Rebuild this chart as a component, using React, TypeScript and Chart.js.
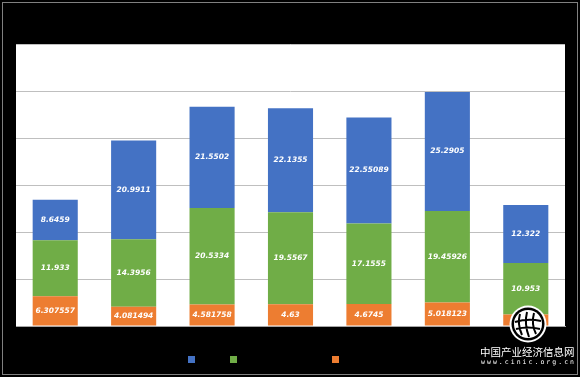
import React, { useEffect, useRef } from 'react';
import { Chart, registerables } from 'chart.js';

Chart.register(...registerables);

const categories = ['2013年', '2014年', '2015年', '2016年', '2017年', '2018年', '2019年'];
const seriesNames = ['系列3', '系列2', '系列1'];
const orangeValues = [6.307557, 4.081494, 4.581758, 4.63, 4.6745, 5.018123, 2.45];
const greenValues = [11.933, 14.3956, 20.5334, 19.5567, 17.1555, 19.45926, 10.953];
const blueValues = [8.6459, 20.9911, 21.5502, 22.1355, 22.55089, 25.2905, 12.322];
const seriesColors = ['#ED7D31', '#70AD47', '#4472C4'];
const yMin = 0;
const yMax = 60;
const yStep = 10;
const watermarkTitle = '中国产业经济信息网';
const watermarkUrl = 'www.cinic.org.cn';

const framePlugin = {
  id: 'frame',
  beforeDraw(chart: any) {
    const { ctx, chartArea } = chart;
    ctx.save();
    ctx.fillStyle = '#000';
    ctx.fillRect(0, 0, chart.width, chart.height);
    ctx.strokeStyle = '#808080';
    ctx.lineWidth = 1;
    ctx.strokeRect(2.5, 2.5, chart.width - 5, chart.height - 5);
    ctx.fillStyle = '#fff';
    ctx.fillRect(chartArea.left, chartArea.top, chartArea.right - chartArea.left, chartArea.bottom - chartArea.top);
    ctx.restore();
  },
};

const labelPlugin = {
  id: 'segLabels',
  afterDatasetsDraw(chart: any) {
    const { ctx } = chart;
    ctx.save();
    ctx.fillStyle = '#fff';
    ctx.font = 'italic bold 7.5px "DejaVu Sans"';
    ctx.textAlign = 'center';
    ctx.textBaseline = 'middle';
    chart.data.datasets.forEach((ds: any, di: number) => {
      const meta = chart.getDatasetMeta(di);
      meta.data.forEach((bar: any, i: number) => {
        const v = ds.data[i];
        const y = (bar.y + bar.base) / 2;
        ctx.fillText(String(v), bar.x, y);
      });
    });
    ctx.restore();
  },
};

const overlayPlugin = {
  id: 'overlay',
  afterDraw(chart: any) {
    const { ctx } = chart;
    ctx.save();
    const legendX = [188, 230, 332];
    const order = [2, 1, 0];
    order.forEach((di, k) => {
      const ds = chart.data.datasets[di];
      ctx.fillStyle = ds.backgroundColor;
      ctx.fillRect(legendX[k], 356, 7, 7);
      ctx.fillStyle = '#000';
      ctx.font = '9px "DejaVu Sans"';
      ctx.textBaseline = 'middle';
      ctx.textAlign = 'left';
      ctx.fillText(ds.label, legendX[k] + 10, 360);
    });
    const cx = 528, cy = 324;
    ctx.fillStyle = '#fff';
    ctx.beginPath(); ctx.arc(cx, cy, 18.5, 0, Math.PI * 2); ctx.fill();
    ctx.fillStyle = '#000';
    ctx.beginPath(); ctx.arc(cx, cy, 16.5, 0, Math.PI * 2); ctx.fill();
    ctx.fillStyle = '#fff';
    ctx.beginPath(); ctx.arc(cx, cy, 14, 0, Math.PI * 2); ctx.fill();
    ctx.strokeStyle = '#000';
    ctx.lineWidth = 2;
    ctx.beginPath();
    ctx.moveTo(cx - 8, cy - 10); ctx.quadraticCurveTo(cx - 11, cy, cx - 6, cy + 11);
    ctx.moveTo(cx - 1, cy - 12); ctx.quadraticCurveTo(cx - 4, cy, cx + 1, cy + 13);
    ctx.moveTo(cx + 6, cy - 11); ctx.quadraticCurveTo(cx + 3, cy, cx + 8, cy + 10);
    ctx.moveTo(cx - 13, cy - 2); ctx.quadraticCurveTo(cx, cy - 6, cx + 13, cy - 3);
    ctx.moveTo(cx - 12, cy + 5); ctx.quadraticCurveTo(cx, cy + 2, cx + 12, cy + 5);
    ctx.stroke();
    ctx.fillStyle = '#fff';
    ctx.font = '10.5px "Noto Sans CJK SC"';
    ctx.textAlign = 'left';
    ctx.textBaseline = 'middle';
    ctx.fillText(watermarkTitle, 480, 352.5);
    ctx.font = '6.5px "DejaVu Sans Mono"';
    const chars = watermarkUrl.split('');
    const step = 95 / chars.length;
    chars.forEach((c, i) => ctx.fillText(c, 481 + i * step, 362));
    ctx.restore();
  },
};

export default function App() {
  const ref = useRef<HTMLCanvasElement>(null);
  useEffect(() => {
    if (!ref.current) return;
    const values = [orangeValues, greenValues, blueValues];
    const chart = new Chart(ref.current, {
      type: 'bar',
      data: {
        labels: categories,
        datasets: values.map((d, i) => ({
          label: seriesNames[i],
          data: d,
          backgroundColor: seriesColors[i],
          borderWidth: 0,
          barPercentage: 0.575,
          categoryPercentage: 1,
        })),
      },
      options: {
        responsive: false,
        animation: false,
        layout: { padding: { left: 16, right: 15, top: 44, bottom: 51 } },
        plugins: { legend: { display: false }, tooltip: { enabled: false } },
        scales: {
          x: {
            stacked: true,
            grid: { display: false, drawTicks: false },
            ticks: { display: false },
            border: { display: true, color: '#a6a6a6', width: 1 },
          },
          y: {
            stacked: true,
            min: yMin,
            max: yMax,
            ticks: { display: false, stepSize: yStep },
            grid: { color: '#bfbfbf', drawTicks: false },
            border: { display: false },
          },
        },
      },
      plugins: [framePlugin, labelPlugin, overlayPlugin],
    });
    return () => chart.destroy();
  }, []);
  return (
    <div style={{ position: 'fixed', left: 0, top: 0, width: 580, height: 377 }}>
      <canvas ref={ref} width={580} height={377} style={{ display: 'block', width: 580, height: 377 }} />
    </div>
  );
}
